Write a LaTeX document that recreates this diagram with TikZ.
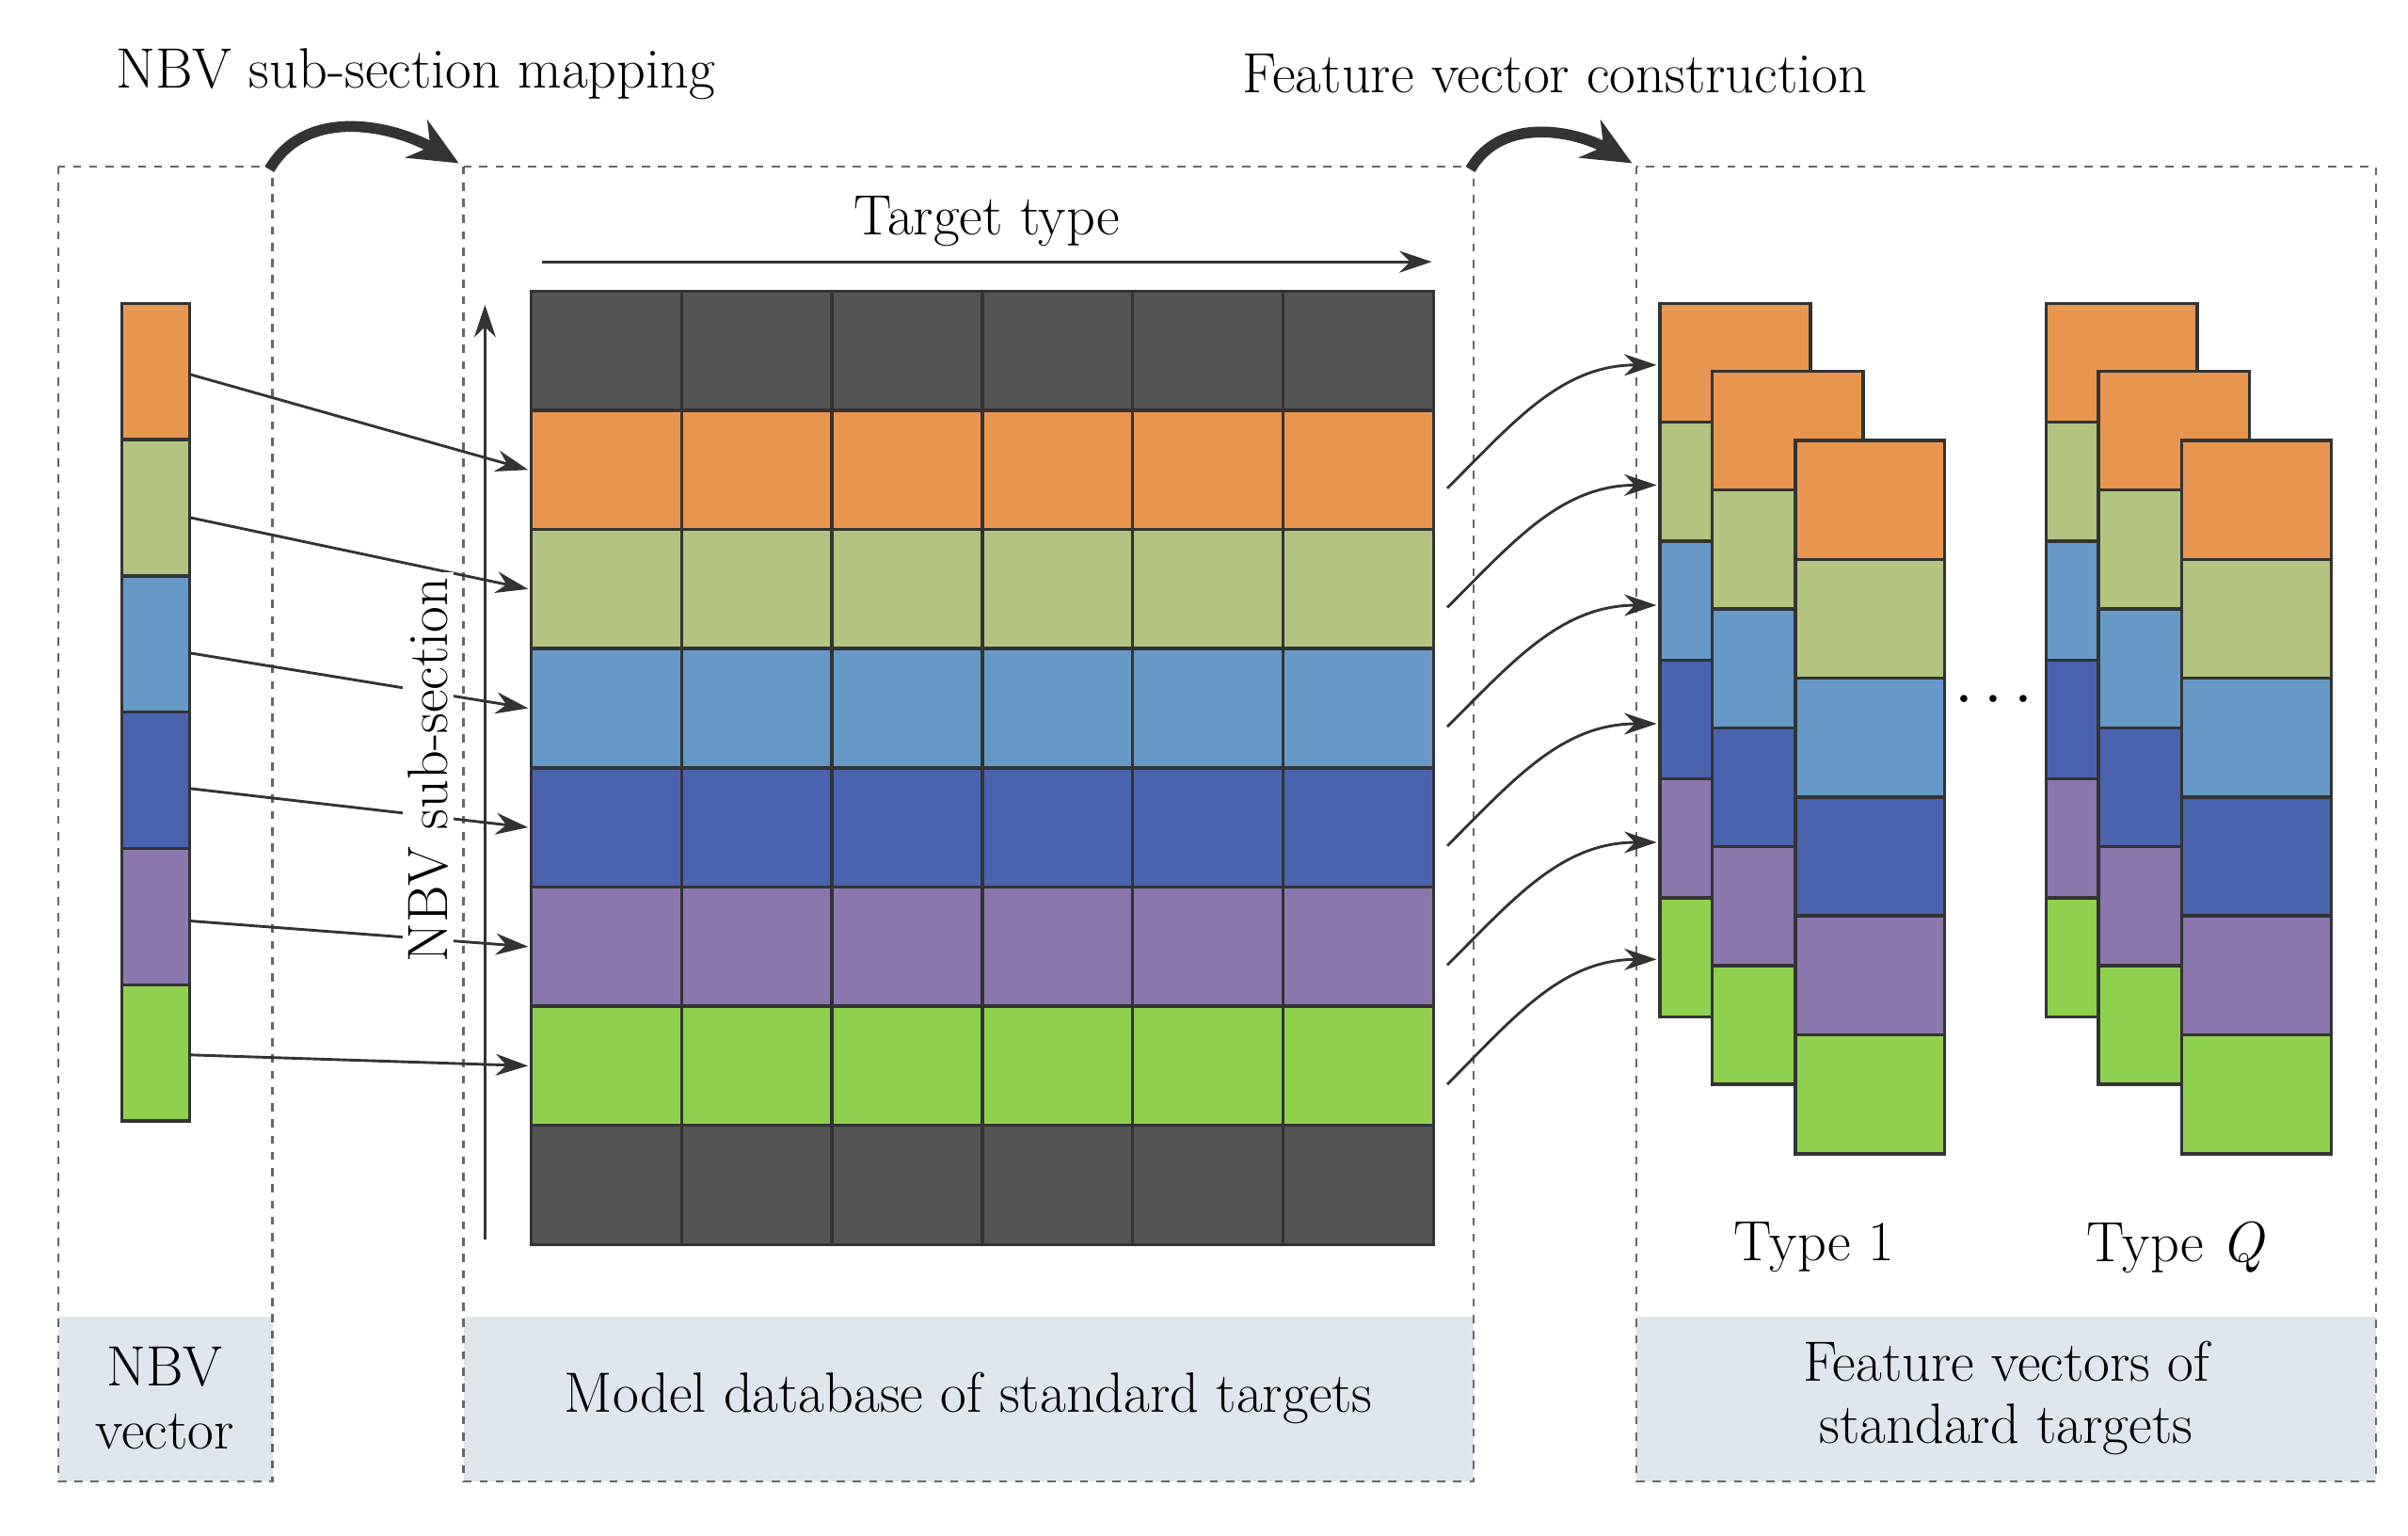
\documentclass[tikz,border=0pt]{standalone}
\usetikzlibrary{arrows.meta}
\begin{document}
\definecolor{c1}{HTML}{E8964F}\definecolor{c2}{HTML}{B3C380}\definecolor{c3}{HTML}{6699C8}
\definecolor{c4}{HTML}{4A63AE}\definecolor{c5}{HTML}{8B76AD}\definecolor{c6}{HTML}{8FD14F}
\definecolor{dk}{HTML}{545454}\definecolor{lb}{HTML}{DFE6EE}
\begin{tikzpicture}[x=0.02cm,y=-0.02cm,
  dbox/.style={draw=black!60,dashed,line width=0.8pt},
  cell/.style={draw=black!80,line width=1.2pt},
  txt/.style={font=\fontsize{21}{25}\selectfont,align=center},
  arr/.style={draw=black!80,line width=1pt,-{Stealth[length=12pt,width=8pt]}},
  big/.style={draw=black!80,line width=4pt,-{Stealth[length=18pt,width=16pt]}}]
\useasboundingbox (0,0) rectangle (1564,997);
% label backgrounds
\fill[lb] (38,855) rectangle (177,962);
\fill[lb] (301,855) rectangle (957,962);
\fill[lb] (1063,855) rectangle (1543,962);
\draw[dbox] (38,108) rectangle (177,962);
\draw[dbox] (301,108) rectangle (957,962);
\draw[dbox] (1063,108) rectangle (1543,962);
\node[txt] (t1) at (270,48) {NBV sub-section mapping};
\node[txt] (t2) at (1010,48) {Feature vector construction};
\coordinate (a1) at (175,110);\coordinate (a2) at (298,106);
\coordinate (b1) at (955,110);\coordinate (b2) at (1060,106);
\draw[big] (a1) to[out=60,in=150] (a2);
\draw[big] (b1) to[out=60,in=150] (b2);
% NBV vector
\foreach \c [count=\i] in {c1,c2,c3,c4,c5,c6}{
  \pgfmathsetmacro\ya{197+(\i-1)*88.5}\pgfmathsetmacro\yb{197+\i*88.5}
  \draw[cell,fill=\c] (79,\ya) rectangle (123,\yb);
  \coordinate (v\i) at (123,{(\ya+\yb)/2});}
% grid
\foreach \c [count=\r] in {dk,c1,c2,c3,c4,c5,c6,dk}{
  \pgfmathsetmacro\ya{189+(\r-1)*77.4}\pgfmathsetmacro\yb{189+\r*77.4}
  \foreach \k in {0,...,5}{
    \draw[cell,fill=\c] ({345+\k*97.67},\ya) rectangle ({345+(\k+1)*97.67},\yb);}
  \coordinate (g\r) at (343,{(\ya+\yb)/2});
  \coordinate (h\r) at (940,{(\ya+\yb)/2+12});}
\coordinate (tt1) at (352,170);\coordinate (tt2) at (930,170);
\draw[arr] (tt1) -- (tt2) node[txt,midway,above=2pt] {Target type};
\coordinate (s1) at (315,805);\coordinate (s2) at (315,198);
\draw[arr] (s1) -- (s2);
% mapping arrows
\draw[arr] (123,243) -- (g2);
\draw[arr] (123,336) -- (g3);
\draw[arr] (123,424) -- (g4);
\draw[arr] (123,512) -- (g5);
\draw[arr] (123,598) -- (g6);
\draw[arr] (123,685) -- (g7);
\node[txt,fill=white,rotate=90,inner sep=2pt] (ns) at (278,500) {NBV sub-section};
% stacks
\foreach \x in {1078,1329}{
 \foreach \dx/\dy/\w in {0/0/98,34/44/98,88/89/97}{
  \foreach \c [count=\i] in {c1,c2,c3,c4,c5,c6}{
   \draw[cell,fill=\c] ({\x+\dx},{197+\dy+(\i-1)*77.2}) rectangle ({\x+\dx+\w},{197+\dy+\i*77.2});}}}
% curved arrows
\foreach \i/\ye in {2/237,3/315,4/393,5/470,6/547,7/623}{
  \coordinate (e\i) at (1076,\ye);
  \draw[arr] (h\i) to[out=45,in=180] (e\i);}
\node[font=\fontsize{30}{30}\selectfont] (dots) at (1295,455) {$\cdots$};
\node[txt] (ty1) at (1178,810) {Type 1};
\node[txt] (tyq) at (1413,810) {Type \textit{Q}};
\node[txt] (l1) at (107,908) {NBV\\[-2pt]vector};
\node[txt] (l2) at (629,908) {Model database of standard targets};
\node[txt] (l3) at (1303,908) {Feature vectors of\\[-2pt]standard targets};
\end{tikzpicture}
\end{document}
